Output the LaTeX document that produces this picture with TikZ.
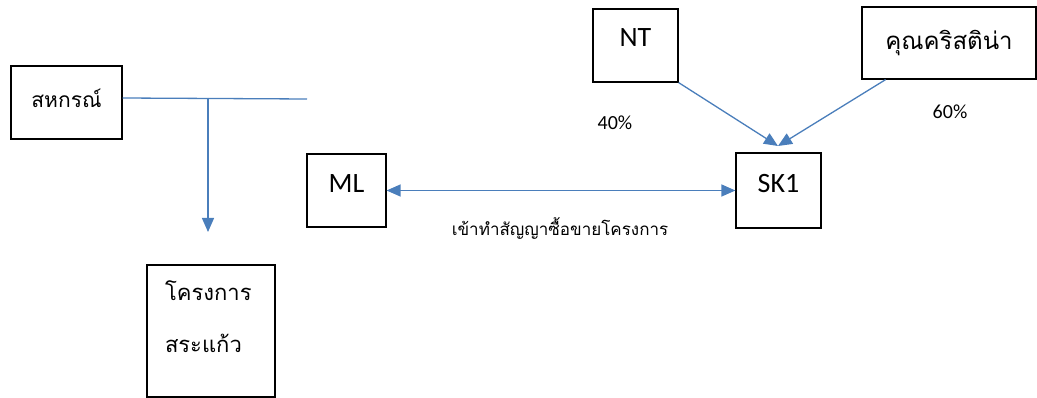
\documentclass[tikz,border=0pt]{standalone}
\usepackage{fontspec}
\setmainfont{Carlito}
\newfontfamily\thaifont[Script=Thai]{Loma}
\usetikzlibrary{arrows.meta}
\definecolor{linkblue}{HTML}{4A7EBB}

\begin{document}
\begin{tikzpicture}[x=1pt,y=-1pt,
        box/.style={draw,line width=1.2pt,inner sep=0pt,minimum width=#1},
        link/.style={draw=linkblue,line width=1.3pt},
        linkarrow/.style={-{Triangle[length=14pt,width=12pt]}},
        linkboth/.style={{Triangle[length=14pt,width=12pt]}-{Triangle[length=14pt,width=12pt]}},
        pct/.style={font=\fontsize{20}{24}\selectfont}]

        \useasboundingbox (0,0) rectangle (1037,398);

        \node [box=111, minimum height=73, text depth=9pt,
            font=\thaifont\fontsize{21}{25}\selectfont] at (66.5,102.5) (coop) {สหกรณ์};
        \node [box=128, minimum height=132, align=left, text width=92pt, text depth=80pt,
            font=\thaifont\fontsize{22}{52}\selectfont] at (211,331) (proj) {โครงการ\\สระแก้ว};
        \node [box=79, minimum height=73, text depth=14pt,
            font=\fontsize{28}{32}\selectfont] at (346.5,190.5) (ml) {ML};
        \node [box=85, minimum height=75, text depth=14pt,
            font=\fontsize{28}{32}\selectfont] at (778.5,190.5) (sk) {SK1};
        \node [box=85, minimum height=73, text depth=16pt,
            font=\fontsize{28}{32}\selectfont] at (635.5,45.5) (nt) {NT};
        \node [box=174, minimum height=72,
            font=\thaifont\fontsize{24}{28}\selectfont] at (949,43) (chris) {คุณคริสติน่า};

        \node [pct] at (615,123) (ntshare) {40\%};
        \node [pct] at (950,112) (chrisshare) {60\%};
        \node [font=\thaifont\fontsize{17}{20}\selectfont] at (560,228) (deal) {เข้าทำสัญญาซื้อขายโครงการ};

        \coordinate (tee) at (208,98);
        \coordinate (lineend) at (307,99);
        \coordinate (down) at (208,232);
        \coordinate (skin) at (778,146);

        \draw [link] (coop.east |- tee) -- (lineend);
        \draw [link,linkarrow] (tee) -- (down);
        \draw [link,linkboth] (ml) -- (sk);
        \draw [link,linkarrow] (nt.south east) -- (skin);
        \draw [link,linkarrow] (chris.210) -- (skin);

    \end{tikzpicture}
\end{document}
